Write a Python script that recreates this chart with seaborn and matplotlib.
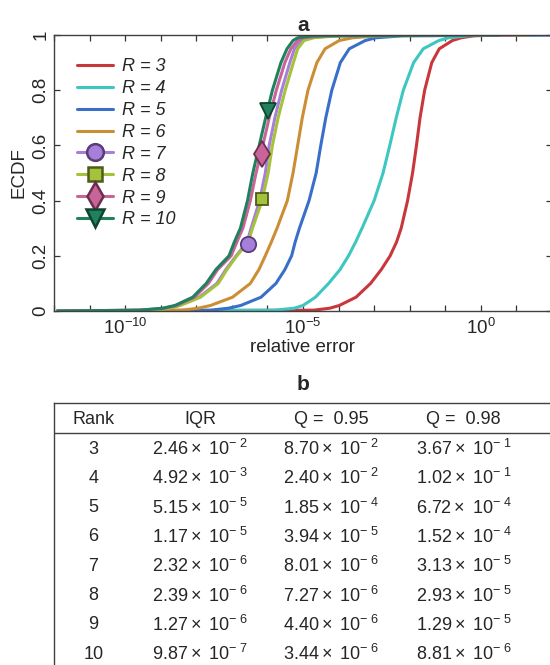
import numpy as np
import pandas as pd
import matplotlib
matplotlib.use("Agg")
import matplotlib.pyplot as plt
import seaborn as sns
from matplotlib.lines import Line2D
from matplotlib.ticker import FixedLocator, LogLocator, NullFormatter

# ECDF levels and log10(relative error)
levels = [0.0, 0.003, 0.01, 0.02, 0.05, 0.1, 0.15, 0.2, 0.25, 0.3, 0.4,
          0.5, 0.6, 0.7, 0.8, 0.9, 0.95, 0.98, 0.99, 0.997, 1.0]
r3 = [-11.9, -4.7, -4.25, -3.98, -3.51, -3.10, -2.80, -2.55, -2.37, -2.24, -2.06,
      -1.92, -1.81, -1.71, -1.58, -1.38, -1.17, -0.80, -0.55, -0.20, 0.5]
r4 = [-11.9, -5.8, -5.25, -5.0, -4.65, -4.28, -3.96, -3.72, -3.52, -3.34, -3.0,
      -2.75, -2.56, -2.38, -2.18, -1.89, -1.62, -1.18, -0.9, -0.35, 0.2]
r5 = [-11.9, -7.6, -7.1, -6.75, -6.18, -5.76, -5.51, -5.32, -5.22, -5.10, -4.83,
      -4.63, -4.50, -4.36, -4.19, -3.95, -3.70, -3.25, -2.95, -2.2, 2.5]
r6 = [-11.9, -8.4, -7.95, -7.6, -6.98, -6.48, -6.24, -6.06, -5.89, -5.73, -5.44,
      -5.28, -5.15, -5.02, -4.86, -4.61, -4.38, -3.98, -3.6, -2.9, 1.29]
r7 = [-11.9, -9.35, -8.8, -8.5, -7.92, -7.42, -7.17, -6.88, -6.57, -6.46, -6.22,
      -6.06, -5.95, -5.79, -5.60, -5.37, -5.24, -5.05, -4.8, -4.2, 0.3]
r8 = [-11.9, -9.3, -8.75, -8.45, -7.88, -7.38, -7.14, -6.86, -6.54, -6.42, -6.15,
      -5.98, -5.86, -5.70, -5.50, -5.27, -5.15, -4.97, -4.7, -4.0, 0.4]
r9 = [-11.9, -9.55, -8.9, -8.55, -8.05, -7.66, -7.40, -7.02, -6.86, -6.69, -6.48,
      -6.32, -6.13, -5.95, -5.75, -5.51, -5.34, -5.15, -4.98, -4.4, 0.86]
r10 = [-11.9, -9.6, -8.95, -8.6, -8.1, -7.72, -7.45, -7.08, -6.93, -6.76, -6.56,
       -6.41, -6.23, -6.05, -5.86, -5.62, -5.45, -5.28, -5.15, -4.7, 0.53]
ranks = [3, 4, 5, 6, 7, 8, 9, 10]
curves = [r3, r4, r5, r6, r7, r8, r9, r10]
line_colors = ["#C8373B", "#3EC6C0", "#3A6FC9", "#CC8E35",
               "#A67FDB", "#A4C23A", "#C86498", "#21805E"]

# one marker per curve for R = 7..10
marker_ranks = [7, 8, 9, 10]
marker_lx = [-6.56, -6.15, -6.16, -5.97]
marker_y = [0.243, 0.405, 0.568, 0.725]
marker_shapes = ["o", "s", "d", "v"]
marker_sizes = [11, 8.5, 13, 12]
marker_edges = ["#5A3B7A", "#4F5A1B", "#6B2F4E", "#0E4430"]

# table b
iqr = [2.46e-2, 4.92e-3, 5.15e-5, 1.17e-5, 2.32e-6, 2.39e-6, 1.27e-6, 9.87e-7]
q95 = [8.70e-2, 2.40e-2, 1.85e-4, 3.94e-5, 8.01e-6, 7.27e-6, 4.40e-6, 3.44e-6]
q98 = [3.67e-1, 1.02e-1, 6.72e-4, 1.52e-4, 3.13e-5, 2.93e-5, 1.29e-5, 8.81e-6]
headers = ["Rank", "IQR", "Q =  0.95", "Q =  0.98"]

sns.set_style("ticks")
plt.rcParams["font.family"] = ["Liberation Sans", "DejaVu Sans"]
plt.rcParams["mathtext.fontset"] = "custom"
plt.rcParams["mathtext.rm"] = "Liberation Sans"
plt.rcParams["mathtext.it"] = "Liberation Sans:italic"

fig = plt.figure(figsize=(5.5, 6.65), dpi=100)
ax = fig.add_axes([54 / 550, 1 - 311 / 665, (552 - 54) / 550, (311 - 35) / 665])

labels = [f"R = {r}" for r in ranks]
df = pd.concat([pd.DataFrame({"err": 10 ** np.array(v), "ecdf": levels, "R": lab})
                for lab, v in zip(labels, curves)], ignore_index=True)
sns.lineplot(data=df, x="err", y="ecdf", hue="R", hue_order=labels,
             palette=dict(zip(labels, line_colors)), sort=False, estimator=None,
             lw=2.2, legend=False, ax=ax)

for r, lx, y, m, ms, ec in zip(marker_ranks, marker_lx, marker_y, marker_shapes,
                               marker_sizes, marker_edges):
    c = line_colors[ranks.index(r)]
    ax.plot([10 ** lx], [y], marker=m, ms=ms, mfc=c, mec=ec, mew=1.3,
            ls="none", zorder=5)

handles = []
for r, c in zip(ranks, line_colors):
    if r in marker_ranks:
        i = marker_ranks.index(r)
        handles.append(Line2D([], [], color=c, lw=2.2, marker=marker_shapes[i],
                              ms=marker_sizes[i] + 1, mfc=c, mec=marker_edges[i],
                              mew=1.8))
    else:
        handles.append(Line2D([], [], color=c, lw=2.2))
leg = ax.legend(handles, labels, loc="upper left", bbox_to_anchor=(0.025, 0.955),
                frameon=False, handlelength=2.0, labelspacing=0.27,
                handletextpad=0.45, borderaxespad=0.2,
                prop={"size": 13, "style": "italic"})

ax.set_xscale("log")
ax.set_xlim(1e-12, 1e2)
ax.set_ylim(0, 1)
ax.xaxis.set_major_locator(FixedLocator([1e-10, 1e-5, 1e0]))
ax.set_xticklabels([r"$10^{-10}$", r"$10^{-5}$", r"$10^{0}$"])
ax.xaxis.set_minor_locator(LogLocator(base=10, subs=(1.0,), numticks=30))
ax.xaxis.set_minor_formatter(NullFormatter())
ax.set_yticks([0, 0.2, 0.4, 0.6, 0.8, 1])
ax.set_yticklabels(["0", "0.2", "0.4", "0.6", "0.8", "1"], rotation=90, va="center")
ax.tick_params(which="both", direction="in", top=True, right=True, length=4,
               width=0.9, color="#333333", labelsize=13.5)
ax.tick_params(axis="x", pad=5)
for s in ax.spines.values():
    s.set_color("#404040")
    s.set_linewidth(1)
ax.set_xlabel("relative error", fontsize=13.5, labelpad=1)
ax.set_ylabel("ECDF", fontsize=13.5, labelpad=3)
ax.set_title("a", fontsize=15, fontweight="bold", pad=3)

# table b
fig.text(303 / 550, 1 - 385 / 665, "b", fontsize=15, fontweight="bold",
         ha="center", va="center")
ax2 = fig.add_axes([54 / 550, 0, 1 - 54 / 550 + 0.01, (665 - 403) / 665])
ax2.set_xlim(0, 1)
ax2.set_ylim(0, 1)
ax2.set_xticks([])
ax2.set_yticks([])
for side in ["bottom", "right"]:
    ax2.spines[side].set_visible(False)
for side in ["top", "left"]:
    ax2.spines[side].set_color("#404040")
    ax2.spines[side].set_linewidth(1)
ax2.axhline(1 - 30 / 262, color="#404040", lw=1)

col_x = [39 / 497, 145 / 497, 275 / 497, 406 / 497]
for x, h in zip(col_x, headers):
    ax2.text(x, 1 - 17 / 262, h, ha="center", va="center", fontsize=13)


def sci(v):
    m, e = f"{v:.2e}".split("e")
    return r"$\mathregular{" + m + r"\times\ 10^{-\ " + str(abs(int(e))) + r"}}$"


for i, r in enumerate(ranks):
    y = 1 - (46 + 29.3 * i) / 262
    ax2.text(col_x[0], y, str(r), ha="center", va="center", fontsize=13)
    for x, col in zip(col_x[1:], [iqr, q95, q98]):
        ax2.text(x, y, sci(col[i]), ha="center", va="center", fontsize=13)

fig.savefig("out.png", dpi=100)
